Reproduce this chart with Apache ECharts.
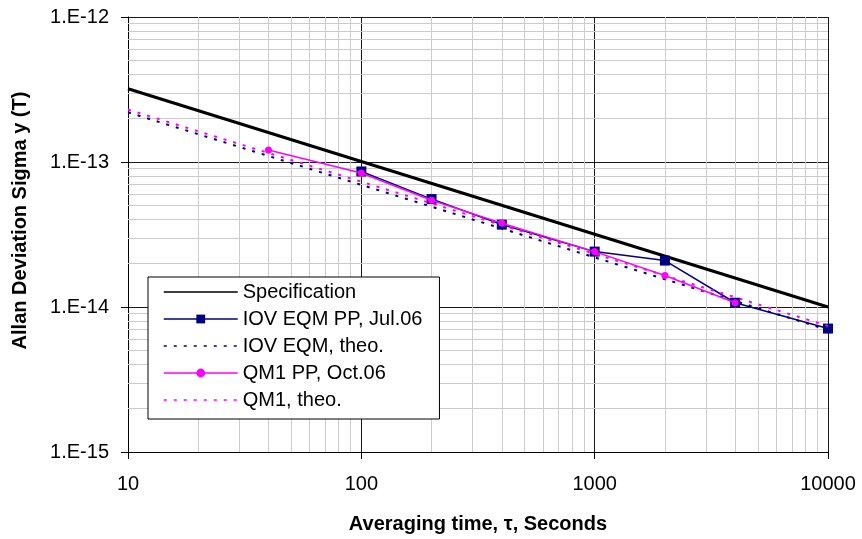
<!DOCTYPE html>
<html>
<head>
<meta charset="utf-8">
<script src="https://cdn.jsdelivr.net/npm/echarts@6/dist/echarts.min.js"></script>
<style>
  html, body { margin: 0; padding: 0; background: #fff; }
  #chart { width: 862px; height: 539px; }
</style>
</head>
<body>
<div id="chart"></div>
<script>
// Allan deviation vs. averaging time (log-log)
const tauSpec = [10, 10000];
const sigmaSpec = [3.2e-13, 1.0e-14];

const tauIOV = [100, 200, 400, 1000, 2000, 4000, 10000];
const sigmaIOV = [8.6e-14, 5.55e-14, 3.7e-14, 2.41e-14, 2.09e-14, 1.07e-14, 7.1e-15];

const tauIOVTheo = [10, 10000];
const sigmaIOVTheo = [2.2e-13, 6.95e-15];

const tauQM1 = [40, 100, 200, 400, 1000, 2000, 4000];
const sigmaQM1 = [1.21e-13, 8.4e-14, 5.45e-14, 3.79e-14, 2.41e-14, 1.65e-14, 1.07e-14];

const tauQM1Theo = [10, 10000];
const sigmaQM1Theo = [2.3e-13, 7.4e-15];

const xTickLabels = ['10', '100', '1000', '10000'];           // decades 1..4
const yTickLabels = ['1.E-15', '1.E-14', '1.E-13', '1.E-12'];  // decades -15..-12

const seriesNames = [
  'Specification',
  'IOV EQM PP, Jul.06',
  'IOV EQM, theo.',
  'QM1 PP, Oct.06',
  'QM1, theo.'
];

const FONT = "'Liberation Sans', Arial, Helvetica, sans-serif";
const NAVY = '#000080';
const MAGENTA = '#ff00ff';

const zip = (xs, ys) => xs.map((x, i) => [x, ys[i]]);
const decade = v => Math.round(Math.log10(v));

// light minor grid at 2..9 of every decade
const minorX = [];
for (let d = 1; d < 4; d++) for (let m = 2; m <= 9; m++) minorX.push(m * Math.pow(10, d));
const minorY = [];
for (let d = -15; d < -12; d++) for (let m = 2; m <= 9; m++) minorY.push(m * Math.pow(10, d));

// legend entries: lines without a marker get a hidden symbol
const noMarker = { opacity: 0 };
const legendData = seriesNames.map((name, i) =>
  (i === 1 || i === 3) ? { name } : { name, itemStyle: noMarker }
);

const chart = echarts.init(document.getElementById('chart'), null, { renderer: 'canvas' });

chart.setOption({
  animation: false,
  backgroundColor: '#fff',
  textStyle: { fontFamily: FONT },
  grid: { left: 128, right: 34, top: 17, bottom: 86, containLabel: false },
  legend: {
    orient: 'vertical',
    left: 148,
    top: 277,
    padding: [5, 17, 9, 15],
    itemWidth: 74,
    itemHeight: 11,
    itemGap: 7,
    backgroundColor: '#fff',
    borderColor: '#000',
    borderWidth: 1,
    borderRadius: 0,
    lineStyle: { width: 1.5 },
    textStyle: { fontSize: 20, lineHeight: 20, color: '#000', fontFamily: FONT },
    data: legendData
  },
  xAxis: {
    type: 'log',
    logBase: 10,
    min: 10,
    max: 10000,
    axisLine: { show: true, onZero: false, lineStyle: { color: '#000', width: 1 } },
    axisTick: { show: true, length: 7, lineStyle: { color: '#000' } },
    axisLabel: {
      fontSize: 20, color: '#000', margin: 22, fontFamily: FONT,
      formatter: v => xTickLabels[decade(v) - 1]
    },
    splitLine: { show: true, lineStyle: { color: '#1a1a1a', width: 1 } },
    name: 'Averaging time, τ, Seconds',
    nameLocation: 'middle',
    nameGap: 62,
    nameTextStyle: { fontSize: 20, fontWeight: 'bold', color: '#000', fontFamily: FONT }
  },
  yAxis: {
    type: 'log',
    logBase: 10,
    min: 1e-15,
    max: 1e-12,
    axisLine: { show: true, onZero: false, lineStyle: { color: '#000', width: 1 } },
    axisTick: { show: true, length: 7, lineStyle: { color: '#000' } },
    axisLabel: {
      fontSize: 20, color: '#000', margin: 19, fontFamily: FONT,
      formatter: v => yTickLabels[decade(v) + 15]
    },
    splitLine: { show: true, lineStyle: { color: '#1a1a1a', width: 1 } },
    name: 'Allan Deviation Sigma y (T)',
    nameLocation: 'middle',
    nameGap: 98,
    nameTextStyle: {
      fontSize: 20, fontWeight: 'bold', color: '#000', fontFamily: FONT,
      padding: [0, 0, 0, 28]
    }
  },
  series: [
    {
      name: 'minor grid',
      type: 'line',
      data: [],
      silent: true,
      z: 1,
      markLine: {
        silent: true,
        z: 1,
        animation: false,
        precision: 20,
        symbol: ['none', 'none'],
        label: { show: false },
        lineStyle: { color: '#cccccc', width: 1, type: 'solid' },
        data: minorX.map(v => ({ xAxis: v })).concat(minorY.map(v => ({ yAxis: v })))
      }
    },
    {
      name: seriesNames[0],
      type: 'line',
      data: zip(tauSpec, sigmaSpec),
      symbol: 'none',
      z: 3,
      itemStyle: { color: '#000' },
      lineStyle: { color: '#000', width: 3 }
    },
    {
      name: seriesNames[1],
      type: 'line',
      data: zip(tauIOV, sigmaIOV),
      symbol: 'rect',
      symbolSize: 10,
      z: 4,
      itemStyle: { color: NAVY },
      lineStyle: { color: NAVY, width: 1.5 }
    },
    {
      name: seriesNames[2],
      type: 'line',
      data: zip(tauIOVTheo, sigmaIOVTheo),
      symbol: 'none',
      z: 4,
      itemStyle: { color: NAVY },
      lineStyle: { color: NAVY, width: 2, type: [3, 7] }
    },
    {
      name: seriesNames[3],
      type: 'line',
      data: zip(tauQM1, sigmaQM1),
      symbol: 'circle',
      symbolSize: 7,
      z: 5,
      itemStyle: { color: MAGENTA },
      lineStyle: { color: MAGENTA, width: 1.5 }
    },
    {
      name: seriesNames[4],
      type: 'line',
      data: zip(tauQM1Theo, sigmaQM1Theo),
      symbol: 'none',
      z: 5,
      itemStyle: { color: MAGENTA },
      lineStyle: { color: MAGENTA, width: 2, type: [3, 7] }
    }
  ]
});
</script>
</body>
</html>
